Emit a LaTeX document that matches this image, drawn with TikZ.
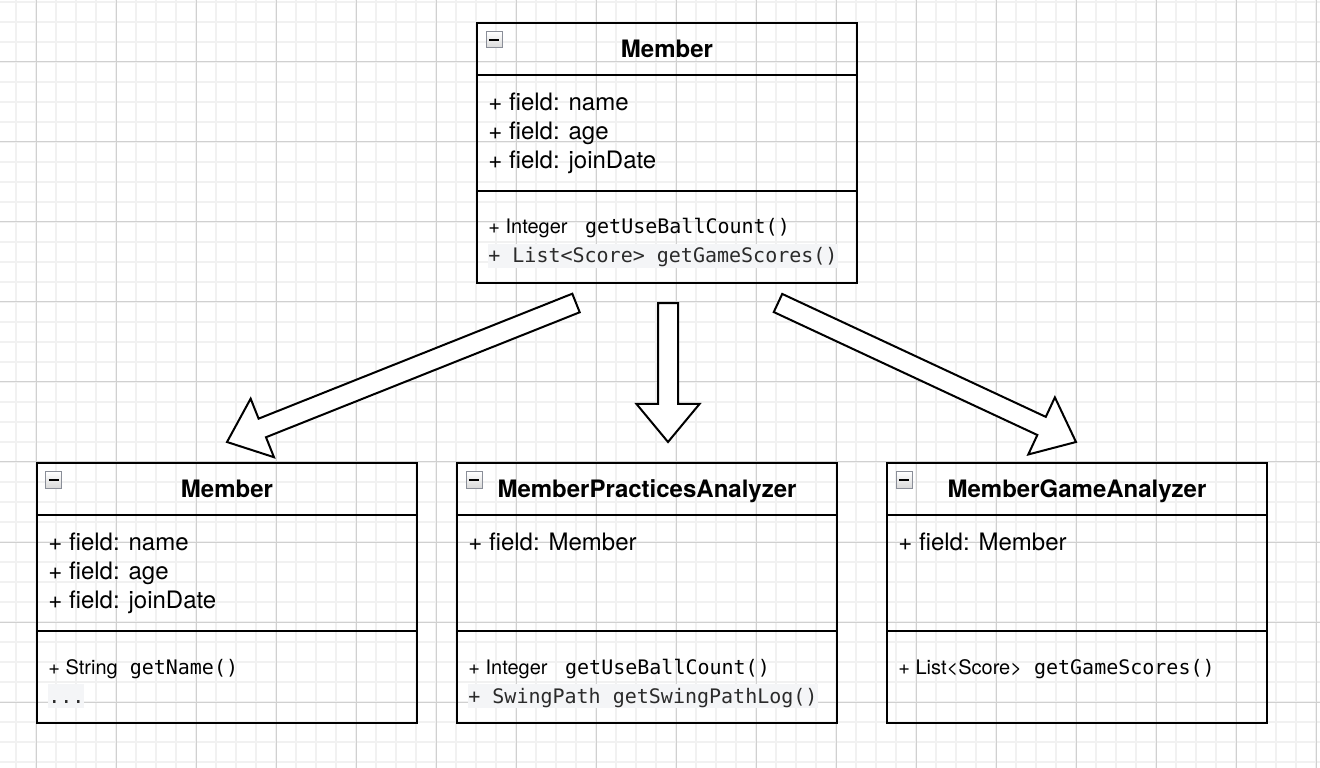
\documentclass[tikz,border=0pt]{standalone}
\usepackage{fontspec}
\setmainfont{TeX Gyre Heros}
\newfontfamily\codefont{DejaVu Sans Mono}
\usepackage{xcolor}
\usepackage{tikz}
\usetikzlibrary{positioning, calc}

\definecolor{gridmaj}{HTML}{D0D0D0}
\definecolor{gridmin}{HTML}{F1F1F1}
\definecolor{codebg}{HTML}{F4F5F7}
\definecolor{codetxt}{HTML}{2B2B2B}
\definecolor{icoedge}{HTML}{8A8E98}

\begin{document}
\begin{tikzpicture}[
    x=0.2mm, y=-0.2mm,
    node distance=0pt,
    cls/.style={rectangle, draw, line width=0.4mm, outer sep=0pt, inner sep=0pt,
                minimum width=76mm, minimum height=10.4mm,
                font=\fontsize{13.66pt}{16pt}\selectfont\bfseries,
                text height=3.46mm, text depth=0pt},
    fbox/.style={rectangle, draw, line width=0.4mm, outer sep=0pt, inner sep=0pt,
                 minimum width=76mm, minimum height=23.2mm},
    mbox/.style={fbox, minimum height=18.4mm},
    fld/.style={anchor=base west, inner sep=0pt, font=\fontsize{13.66pt}{16pt}\selectfont},
    meth/.style={anchor=base west, inner sep=0pt, font=\fontsize{11.38pt}{14pt}\selectfont},
    mcode/.style={meth, font=\fontsize{11.38pt}{14pt}\selectfont\codefont, text=codetxt,
                  fill=codebg, text height=3.8mm, text depth=1mm},
    ico/.style={rectangle, draw=icoedge, line width=0.2mm, top color=white, bottom color=gray!30,
                minimum size=3.2mm, inner sep=0pt},
    barr/.style={draw, line width=0.4mm, fill=white},
    gmin/.style={gridmin, line width=0.4mm},
    gmaj/.style={gridmaj, line width=0.2mm},
  ]
    \useasboundingbox (0,0) rectangle (1320,768);
    \fill[white] (0,0) rectangle (1320,768);
    % grid
    \foreach \gx in {16,36,...,1316} \draw[gmin] (\gx,0) -- (\gx,768);
    \foreach \gy in {2,22,...,762} \draw[gmin] (0,\gy) -- (1320,\gy);
    \foreach \gx in {36,116,...,1316} \draw[gmaj] (\gx,0) -- (\gx,768);
    \foreach \gy in {62,142,...,702} \draw[gmaj] (0,\gy) -- (1320,\gy);

    % top class
    \node[cls] (topH) at (667,49) {Member};
    \node[fbox, below=of topH] (topF) {};
    \node[mbox, below=of topF] (topM) {};
    \node[ico] (topI) at ($(topH.north west)+(17,17)$) {\rule[-0.2mm]{2mm}{0.4mm}};
    \foreach \f [count=\i] in {name, age, joinDate}
      \node[fld] (topF\i) at ($(topF.north west)+(11,6.6+29*\i)$) {+ field: \f};
    \node[meth] (topM1) at ($(topM.north west)+(11,43)$) {+ Integer {\codefont\ getUseBallCount()}};
    \node[mcode] (topM2) at ($(topM.north west)+(11,72)$) {+ List<Score> getGameScores()};

    % bottom classes
    \node[cls] (memH) at (227,489) {Member};
    \node[fbox, below=of memH] (memF) {};
    \node[mbox, below=of memF] (memM) {};
    \node[ico] (memI) at ($(memH.north west)+(17,17)$) {\rule[-0.2mm]{2mm}{0.4mm}};
    \foreach \f [count=\i] in {name, age, joinDate}
      \node[fld] (memF\i) at ($(memF.north west)+(11,6.6+29*\i)$) {+ field: \f};
    \node[meth] (memM1) at ($(memM.north west)+(11,43)$) {+ String{\codefont\ getName()}};
    \node[mcode] (memM2) at ($(memM.north west)+(11,72)$) {...};

    \node[cls] (pracH) at (647,489) {MemberPracticesAnalyzer};
    \node[fbox, below=of pracH] (pracF) {};
    \node[mbox, below=of pracF] (pracM) {};
    \node[ico] (pracI) at ($(pracH.north west)+(17,17)$) {\rule[-0.2mm]{2mm}{0.4mm}};
    \node[fld] (pracF1) at ($(pracF.north west)+(11,35.6)$) {+ field: Member};
    \node[meth] (pracM1) at ($(pracM.north west)+(11,43)$) {+ Integer {\codefont\ getUseBallCount()}};
    \node[mcode] (pracM2) at ($(pracM.north west)+(11,72)$) {+ SwingPath getSwingPathLog()};

    \node[cls] (gameH) at (1077,489) {MemberGameAnalyzer};
    \node[fbox, below=of gameH] (gameF) {};
    \node[mbox, below=of gameF] (gameM) {};
    \node[ico] (gameI) at ($(gameH.north west)+(17,17)$) {\rule[-0.2mm]{2mm}{0.4mm}};
    \node[fld] (gameF1) at ($(gameF.north west)+(11,35.6)$) {+ field: Member};
    \node[meth] (gameM1) at ($(gameM.north west)+(11,43)$) {+ List<Score>{\codefont\ getGameScores()}};

    % block arrows
    \coordinate (tailL) at ($(topM.south)+(-91,20)$);
    \coordinate (tailC) at ($(topM.south)+(1,20)$);
    \coordinate (tailR) at ($(topM.south)+(111,20)$);
    \coordinate (tipL) at ($(memH.north)+(0,-21)$);
    \coordinate (tipC) at ($(pracH.north)+(21,-21)$);
    \coordinate (tipR) at ($(gameH.north)+(-1,-21)$);
    \foreach \t/\h in {tailL/tipL, tailC/tipC, tailR/tipR}{
      \coordinate (neck) at ($(\h)!7.6mm!(\t)$);
      \draw[barr] ($(\t)!2mm!90:(\h)$) -- ($(neck)!2mm!90:(\h)$) -- ($(neck)!6.3mm!90:(\h)$)
        -- (\h) -- ($(neck)!6.3mm!-90:(\h)$) -- ($(neck)!2mm!-90:(\h)$)
        -- ($(\t)!2mm!-90:(\h)$) -- cycle;
    }
  \end{tikzpicture}
\end{document}
